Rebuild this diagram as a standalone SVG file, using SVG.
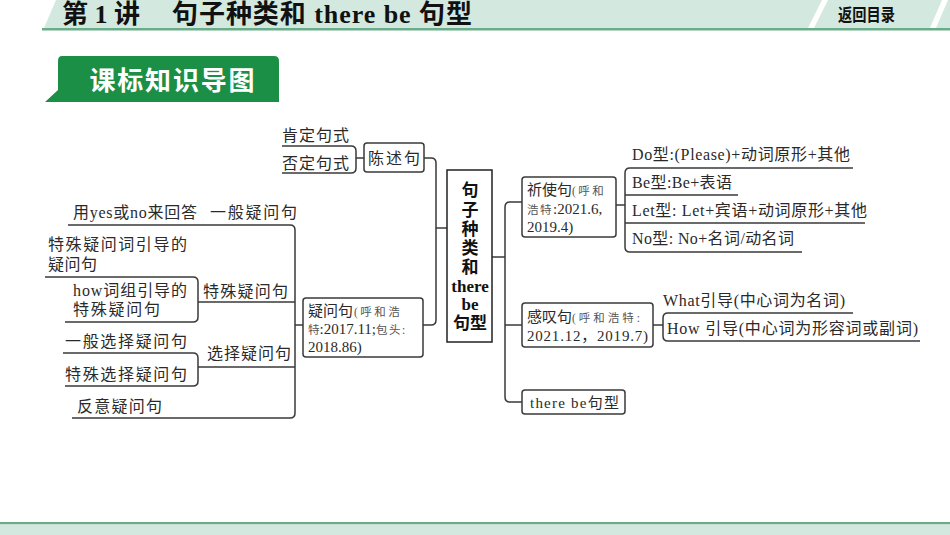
<svg xmlns="http://www.w3.org/2000/svg" width="950" height="535" viewBox="0 0 950 535">
<style>
.t{font-family:"Liberation Serif","Noto Sans CJK SC",serif;font-size:16px;fill:#2a2a2a;}
.b{font-family:"Liberation Serif","Noto Sans CJK SC",serif;font-size:15px;fill:#2a2a2a;}
.s{font-family:"Liberation Serif","Noto Sans CJK SC",serif;font-size:11.5px;fill:#555;}
.m{font-family:"Liberation Serif","Noto Sans CJK SC",serif;font-size:17px;font-weight:bold;fill:#111;text-anchor:middle;}
.ln{fill:none;stroke:#3a3a3a;stroke-width:1.5;}
.box{fill:#fff;stroke:#3a3a3a;stroke-width:1.5;}
</style>
<rect width="950" height="535" fill="#fff"/>
<g id="header">
<polygon points="44,28 56,0 822,0 808,28" fill="#d3e9df"/>
<polygon points="814,28 828,0 942,0 930,28" fill="#d3e9df"/>
<polygon points="936,28 948,0 950,0 950,28" fill="#d3e9df"/>
<rect x="42" y="28" width="908" height="2.5" fill="#6aab88"/>
<text x="62" y="23" font-family="'Liberation Serif','Noto Sans CJK SC',serif" font-size="26" font-weight="bold" fill="#111" textLength="78">第 1 讲</text>
<text x="172" y="23" font-family="'Liberation Serif','Noto Sans CJK SC',serif" font-size="26" font-weight="bold" fill="#111" textLength="300">句子种类和 there be 句型</text>
<text x="838" y="21" font-family="'Noto Sans CJK SC',sans-serif" font-size="17" font-weight="bold" fill="#111" textLength="57" lengthAdjust="spacingAndGlyphs">返回目录</text>
</g>
<g id="section-title">
<path d="M62,56 H274 Q279,56 279,61 V102 H45 L58,90 V61 Q58,56 62,56 Z" fill="#1a8f45"/>
<text x="172" y="90" text-anchor="middle" font-family="'Noto Sans CJK SC',sans-serif" font-size="26" font-weight="bold" fill="#fff" textLength="165">课标知识导图</text>
</g>
<g id="connectors">
<path class="ln" d="M282,146 H351 Q356,146 356,151 V168 Q356,173 351,173 H282"/>
<path class="ln" d="M356,158 H364"/>
<path class="ln" d="M424,158 H431 Q436,158 436,163 V320 Q436,325 431,325 H423"/>
<path class="ln" d="M436,228 H447"/>
<path class="ln" d="M492,257 H505"/>
<path class="ln" d="M522,202 H510 Q505,202 505,207 V397 Q505,402 510,402 H522"/>
<path class="ln" d="M505,325 H522"/>
<path class="ln" d="M616,205 H625"/>
<path class="ln" d="M853,168 H630 Q625,168 625,173 V247 Q625,252 630,252 H802"/>
<path class="ln" d="M625,195 H738 M625,223 H865"/>
<path class="ln" d="M653,325 H663"/>
<path class="ln" d="M853,313 H668 Q663,313 663,318 V336 Q663,341 668,341 H920"/>
<path class="ln" d="M295,325 H303"/>
<path class="ln" d="M68,225 H290 Q295,225 295,230 V413 Q295,418 290,418 H72"/>
<path class="ln" d="M198,302 H295 M198,367 H295"/>
<path class="ln" d="M45,277 H193 Q198,277 198,282 V317 Q198,322 193,322 H65"/>
<path class="ln" d="M63,353 H193 Q198,353 198,358 V381 Q198,386 193,386 H65"/>
</g>
<g id="node-root">
<rect x="447" y="170" width="45" height="172" fill="#fff" stroke="#222" stroke-width="1.5"/>
<text class="m" x="470" y="196">句</text>
<text class="m" x="470" y="216">子</text>
<text class="m" x="470" y="235">种</text>
<text class="m" x="470" y="254">类</text>
<text class="m" x="470" y="273">和</text>
<text class="m" x="470" y="292">there</text>
<text class="m" x="470" y="310">be</text>
<text class="m" x="470" y="329">句型</text>
</g>
<g id="node-chenshu">
<rect class="box" x="364" y="143" width="60" height="29" rx="3"/>
<text class="t" x="368" y="164" textLength="52">陈述句</text>
</g>
<g id="node-kending"><text class="t" x="282" y="141" textLength="67">肯定句式</text></g>
<g id="node-fouding"><text class="t" x="282" y="169" textLength="67">否定句式</text></g>
<g id="node-yiwen">
<rect class="box" x="303" y="298" width="120" height="59" rx="3"/>
<text x="308" y="316"><tspan class="b">疑问句</tspan><tspan class="s" dx="1" letter-spacing="2.5">(呼和浩</tspan></text>
<text x="308" y="334"><tspan class="s">特</tspan><tspan class="b">:2017.11;</tspan><tspan class="s" letter-spacing="1.5">包头:</tspan></text>
<text class="b" x="308" y="352">2018.86)</text>
</g>
<g id="node-yiban">
<text class="t" x="73" y="218" textLength="124">用yes或no来回答</text>
<text class="t" x="210" y="218" textLength="87">一般疑问句</text>
</g>
<g id="node-teshu-yici">
<text class="t" x="48" y="250" textLength="139">特殊疑问词引导的</text>
<text class="t" x="48" y="270" textLength="49">疑问句</text>
</g>
<g id="node-how-cizu">
<text class="t" x="73" y="296" textLength="114">how词组引导的</text>
<text class="t" x="73" y="315" textLength="87">特殊疑问句</text>
</g>
<g id="node-teshu"><text class="t" x="203" y="297" textLength="85">特殊疑问句</text></g>
<g id="node-yiban-xuanze"><text class="t" x="65" y="347" textLength="122">一般选择疑问句</text></g>
<g id="node-teshu-xuanze"><text class="t" x="65" y="380" textLength="122">特殊选择疑问句</text></g>
<g id="node-xuanze"><text class="t" x="207" y="359" textLength="84">选择疑问句</text></g>
<g id="node-fanyi"><text class="t" x="77" y="412" textLength="85">反意疑问句</text></g>
<g id="node-qishi">
<rect class="box" x="522" y="177" width="94" height="60" rx="3"/>
<text x="527" y="195"><tspan class="b">祈使句</tspan><tspan class="s" letter-spacing="2.5">(呼和</tspan></text>
<text x="527" y="214"><tspan class="s" letter-spacing="1.5">浩特</tspan><tspan class="b">:2021.6,</tspan></text>
<text class="b" x="527" y="232">2019.4)</text>
</g>
<g id="node-do"><text class="t" x="632" y="160" textLength="218">Do型:(Please)+动词原形+其他</text></g>
<g id="node-be"><text class="t" x="632" y="188" textLength="100">Be型:Be+表语</text></g>
<g id="node-let"><text class="t" x="632" y="216" textLength="235">Let型: Let+宾语+动词原形+其他</text></g>
<g id="node-no"><text class="t" x="632" y="244" textLength="162">No型: No+名词/动名词</text></g>
<g id="node-gantan">
<rect class="box" x="522" y="303" width="131" height="44" rx="3"/>
<text x="527" y="322"><tspan class="b">感叹句</tspan><tspan class="s" letter-spacing="3">(呼和浩特:</tspan></text>
<text class="b" x="527" y="341" textLength="121">2021.12，2019.7)</text>
</g>
<g id="node-what"><text class="t" x="663" y="306" textLength="182">What引导(中心词为名词)</text></g>
<g id="node-how"><text class="t" x="667" y="334" textLength="251">How 引导(中心词为形容词或副词)</text></g>
<g id="node-therebe">
<rect class="box" x="522" y="390" width="103" height="24" rx="3"/>
<text class="b" x="530" y="408" textLength="89">there be句型</text>
</g>
<g id="footer">
<rect x="0" y="522" width="950" height="2.5" fill="#6aab88"/>
<rect x="0" y="524.5" width="950" height="10.5" fill="#d3e9df"/>
</g>
</svg>
